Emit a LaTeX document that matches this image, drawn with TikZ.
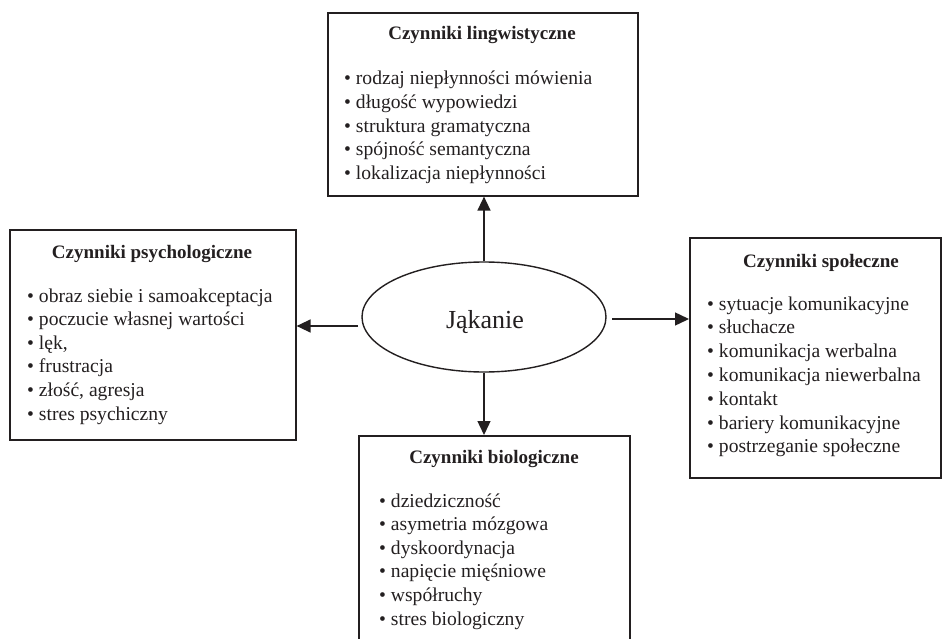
\documentclass[tikz,border=0pt]{standalone}
\usepackage{fontspec}
\setmainfont{Liberation Serif}
\usetikzlibrary{arrows.meta,shapes.geometric}
\definecolor{ink}{HTML}{231F20}
\begin{document}
\begin{tikzpicture}[x=1pt,y=-1pt,
  box/.style={draw=ink, line width=1.6pt, rectangle, inner sep=0pt, anchor=north west},
  ttl/.style={anchor=base, inner sep=0pt, font=\fontsize{19}{23}\selectfont\bfseries, text=ink},
  itm/.style={anchor=base west, inner sep=0pt, font=\fontsize{19.6}{23}\selectfont, text=ink},
  arr/.style={draw=ink, line width=1.4pt, -{Triangle[length=14pt,width=13pt]}}]
\useasboundingbox (0,0) rectangle (944,639);
\clip (0,0) rectangle (944,639);
\fill[white] (0,0) rectangle (944,639);
% boxes
\node[box, minimum width=310pt, minimum height=183pt] (T) at (327,12) {};
\node[box, minimum width=286pt, minimum height=210pt] (P) at (9,229) {};
\node[box, minimum width=251pt, minimum height=240pt] (S) at (689,237) {};
\node[box, minimum width=271pt, minimum height=240pt] (B) at (358,435) {};
% titles
\node[ttl] (Tt) at (482,40) {Czynniki lingwistyczne};
\node[ttl] (Pt) at (152,258) {Czynniki psychologiczne};
\node[ttl] (St) at (821,267) {Czynniki społeczne};
\node[ttl] (Bt) at (494,463) {Czynniki biologiczne};
% items
\foreach \t [count=\i] in {rodzaj niepłynności mówienia, długość wypowiedzi, struktura gramatyczna, spójność semantyczna, lokalizacja niepłynności}
  \node[itm] (T\i) at (344,{85+23.6*(\i-1)}) {•\ \t};
\foreach \t [count=\i] in {obraz siebie i samoakceptacja, poczucie własnej wartości, {lęk,}, frustracja, {złość, agresja}, stres psychiczny}
  \node[itm] (P\i) at (27,{302+23.6*(\i-1)}) {•\ \t};
\foreach \t [count=\i] in {sytuacje komunikacyjne, słuchacze, komunikacja werbalna, komunikacja niewerbalna, kontakt, bariery komunikacyjne, postrzeganie społeczne}
  \node[itm] (S\i) at (707,{310+23.8*(\i-1)}) {•\ \t};
\foreach \t [count=\i] in {dziedziczność, asymetria mózgowa, dyskoordynacja, napięcie mięśniowe, współruchy, stres biologiczny}
  \node[itm] (B\i) at (379,{507+23.6*(\i-1)}) {•\ \t};
% centre
\node[draw=ink, line width=1.4pt, ellipse, minimum width=244pt, minimum height=110pt, inner sep=0pt] (E) at (484,317) {};
\node[anchor=base, inner sep=0pt, font=\fontsize{26}{30}\selectfont, text=ink] (J) at (485,328) {Jąkanie};
% arrows
\coordinate (eL) at (358,326);
\coordinate (eR) at (612,319);
\draw[arr] (E.north) -- (E.north |- T.south);
\draw[arr] (eL) -- (eL -| P.east);
\draw[arr] (eR) -- (eR -| S.west);
\draw[arr] (E.south) -- (E.south |- B.north);
\end{tikzpicture}
\end{document}
